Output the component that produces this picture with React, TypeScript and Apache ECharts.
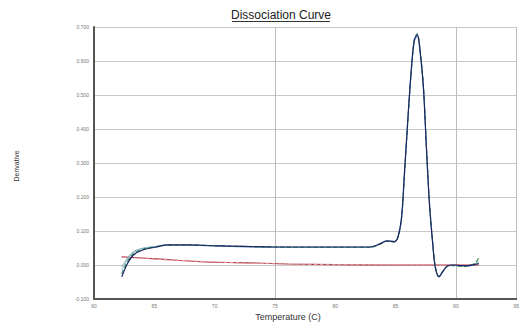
import React, { useEffect, useRef } from "react";
import * as echarts from "echarts";

// Temperature sampling points (°C) shared by the sample traces
const temps = [
  62.3, 62.8, 63.3, 64.1, 65.2, 66.0, 67.9, 70.6, 75.0, 78.8, 82.9, 83.7,
  84.25, 84.9, 85.2, 85.5, 85.75, 86.05, 86.3, 86.55, 86.8, 86.95, 87.3,
  87.55, 87.8, 88.1, 88.3, 88.6, 88.9, 89.3, 89.8, 90.5, 91.0, 91.6, 91.9,
];

// Derivative readings per well
const wellA = [
  -0.035, 0.006, 0.03, 0.045, 0.053, 0.059, 0.059, 0.056, 0.053, 0.053, 0.053,
  0.062, 0.071, 0.069, 0.083, 0.142, 0.28, 0.448, 0.574, 0.662, 0.677, 0.654,
  0.524, 0.348, 0.183, 0.053, -0.009, -0.035, -0.02, -0.002, 0.0, -0.002,
  -0.002, 0.002, 0.004,
];
const wellB = [
  -0.026, 0.012, 0.034, 0.047, 0.054, 0.058, 0.059, 0.056, 0.053, 0.052, 0.052,
  0.061, 0.07, 0.068, 0.081, 0.138, 0.272, 0.44, 0.57, 0.662, 0.68, 0.66,
  0.532, 0.356, 0.19, 0.058, -0.006, -0.033, -0.019, -0.004, -0.002, -0.004,
  -0.003, 0.006, 0.021,
];
const wellC = [
  -0.016, 0.018, 0.037, 0.049, 0.055, 0.058, 0.058, 0.055, 0.052, 0.052, 0.052,
  0.061, 0.07, 0.068, 0.082, 0.14, 0.276, 0.444, 0.568, 0.655, 0.672, 0.652,
  0.528, 0.352, 0.186, 0.056, -0.008, -0.034, -0.021, -0.003, -0.001, -0.003,
  -0.003, 0.003, 0.012,
];
const wellD = [
  -0.006, 0.022, 0.04, 0.05, 0.055, 0.058, 0.058, 0.055, 0.052, 0.052, 0.052,
  0.061, 0.07, 0.069, 0.082, 0.14, 0.278, 0.446, 0.572, 0.658, 0.674, 0.655,
  0.53, 0.35, 0.185, 0.055, -0.007, -0.034, -0.02, -0.003, -0.001, -0.002,
  -0.002, 0.003, 0.008,
];

// No-template control traces
const ntcTemps = [62.3, 65.2, 69.3, 73.4, 76.1, 80.0, 84.3, 88.0, 91.9];
const ntcA = [0.024, 0.018, 0.009, 0.006, 0.003, 0.001, 0.0, 0.0, 0.0];
const ntcB = [0.023, 0.017, 0.01, 0.005, 0.003, 0.001, 0.001, 0.0, 0.001];

// Axis ranges
const xMin = 60;
const xMax = 95;
const xStep = 5;
const yMin = -0.1;
const yMax = 0.7;
const yStep = 0.1;

const pairs = (xs: number[], ys: number[]) => xs.map((x, i) => [x, ys[i]]);

const FONT = "Liberation Sans, Arial, sans-serif";

export default function App() {
  const ref = useRef<HTMLDivElement>(null);

  useEffect(() => {
    if (!ref.current) return;
    const chart = echarts.init(ref.current, undefined, { renderer: "svg" });

    const traceLine = (
      name: string,
      xs: number[],
      ys: number[],
      color: string,
      type: "solid" | "dashed" = "solid",
      width = 1.2,
      z = 2
    ) => ({
      name,
      type: "line",
      data: pairs(xs, ys),
      smooth: 0.3,
      showSymbol: false,
      z,
      lineStyle: { color, width, type },
    });

    chart.setOption({
      animation: false,
      backgroundColor: "#ffffff",
      grid: { left: 94, right: 0, top: 27, bottom: 31 },
      xAxis: [
        {
          type: "value",
          min: xMin,
          max: xMax,
          interval: xStep,
          axisLine: {
            show: true,
            onZero: false,
            lineStyle: { color: "#555", width: 2 },
          },
          axisTick: { show: false },
          splitLine: { show: false },
          axisLabel: {
            fontSize: 5,
            color: "#777",
            fontFamily: FONT,
            margin: 4,
            showMaxLabel: true,
          },
        },
        {
          type: "value",
          min: 60,
          max: 95,
          interval: 15,
          position: "bottom",
          axisLine: { show: false, onZero: false },
          axisTick: { show: false },
          axisLabel: { show: false },
          splitLine: { show: true, lineStyle: { color: "#bdbdbd", width: 1 } },
        },
      ],
      yAxis: {
        type: "value",
        min: yMin,
        max: yMax,
        interval: yStep,
        axisLine: {
          show: true,
          onZero: false,
          lineStyle: { color: "#555", width: 2 },
        },
        axisTick: { show: false },
        splitLine: { show: true, lineStyle: { color: "#c8c8c8", width: 1 } },
        axisLabel: {
          fontSize: 5,
          color: "#777",
          fontFamily: FONT,
          margin: 5,
          formatter: (v: number) => v.toFixed(3),
        },
      },
      series: [
        traceLine("NTC 1", ntcTemps, ntcA, "#a8323c", "solid", 1.1, 2),
        traceLine("NTC 2", ntcTemps, ntcB, "#e89aa0", "dashed", 1, 3),
        traceLine("Well 4", temps, wellD, "#8fa9a4", "solid", 1, 4),
        traceLine("Well 3", temps, wellC, "#8cc0e0", "solid", 1, 5),
        traceLine("Well 2", temps, wellB, "#2f8a4a", "dashed", 1.1, 6),
        traceLine("Well 1", temps, wellA, "#1c2366", "solid", 1.2, 7),
      ],
      graphic: [
        {
          type: "text",
          x: 281,
          y: 15,
          style: {
            text: "Dissociation Curve",
            fontSize: 12,
            fontFamily: FONT,
            fill: "#222",
            align: "center",
            verticalAlign: "middle",
          },
        },
        {
          type: "line",
          shape: { x1: 232, y1: 21.5, x2: 330, y2: 21.5 },
          style: { stroke: "#333", lineWidth: 1 },
        },
        {
          type: "text",
          x: 288,
          y: 317,
          style: {
            text: "Temperature (C)",
            fontSize: 9,
            fontFamily: FONT,
            fill: "#333",
            align: "center",
            verticalAlign: "middle",
          },
        },
        {
          type: "text",
          x: 16,
          y: 166,
          rotation: Math.PI / 2,
          style: {
            text: "Derivative",
            fontSize: 7,
            fontFamily: FONT,
            fill: "#333",
            align: "center",
            verticalAlign: "middle",
          },
        },
      ],
    });

    return () => chart.dispose();
  }, []);

  return (
    <div
      ref={ref}
      style={{ position: "fixed", left: 0, top: 0, width: 522, height: 330 }}
    />
  );
}
